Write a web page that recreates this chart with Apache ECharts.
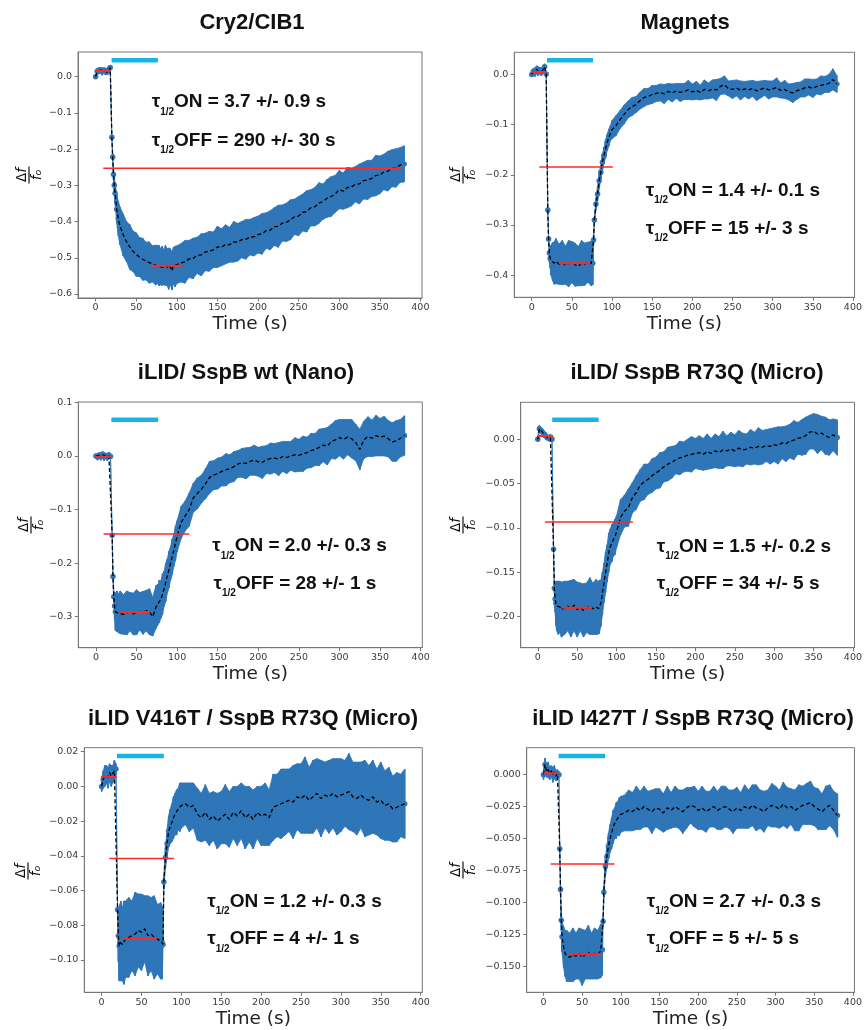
<!DOCTYPE html>
<html>
<head>
<meta charset="utf-8">
<script src="https://cdn.jsdelivr.net/npm/echarts@6/dist/echarts.min.js"></script>
<style>html,body{margin:0;padding:0;background:#fff}#c{width:865px;height:1030px}</style>
</head>
<body>
<div id="c"></div>
<script>
// ---------- DATA ----------
const titles = ['Cry2/CIB1', 'Magnets', 'iLID/ SspB wt (Nano)', 'iLID/ SspB R73Q (Micro)', 'iLID V416T / SspB R73Q (Micro)', 'iLID I427T / SspB R73Q (Micro)'];
const tauOn = ['3.7 +/- 0.9 s', '1.4 +/- 0.1 s', '2.0 +/- 0.3 s', '1.5 +/- 0.2 s', '1.2 +/- 0.3 s', '2.7 +/- 0.3 s'];
const tauOff = ['290 +/- 30 s', '15 +/- 3 s', '28 +/- 1 s', '34 +/- 5 s', '4 +/- 1 s', '5 +/- 5 s'];
const xTicks = [0, 50, 100, 150, 200, 250, 300, 350, 400];
const yTicks1 = [0.0, -0.1, -0.2, -0.3, -0.4, -0.5, -0.6];
const yTicks2 = [0.0, -0.1, -0.2, -0.3, -0.4];
const yTicks3 = [0.1, 0.0, -0.1, -0.2, -0.3];
const yTicks4 = [0.00, -0.05, -0.10, -0.15, -0.20];
const yTicks5 = [0.02, 0.00, -0.02, -0.04, -0.06, -0.08, -0.10];
const yTicks6 = [0.000, -0.025, -0.050, -0.075, -0.100, -0.125, -0.150];

// time (s)
const time = [0,2,4,6,8,10,12,14,16,18,
  20,21,22,23,24,26,28,30,
  34,38,42,46,50,54,58,62,66,70,74,
  76,77,78,
  80,82,84,86,88,90,92,94,96,98,100,
  105,110,115,120,125,130,135,140,145,
  150,155,160,165,170,175,180,185,190,195,
  200,205,210,215,220,225,230,235,240,245,
  250,255,260,265,270,275,280,285,290,295,
  300,305,310,315,320,325,330,335,340,345,
  350,355,360,365,370,375,380];

// Cry2/CIB1
const mean1 = [0.000,0.015,0.016,0.018,0.014,0.017,0.015,0.012,0.019,0.025,
  -0.167,-0.222,-0.270,-0.300,-0.322,-0.366,-0.392,-0.412,
  -0.437,-0.455,-0.470,-0.482,-0.491,-0.498,-0.504,-0.509,-0.513,-0.517,-0.520,
  -0.519,-0.523,-0.521,
  -0.525,-0.522,-0.527,-0.521,-0.526,-0.530,-0.524,-0.536,-0.521,-0.524,-0.519,
  -0.514,-0.511,-0.503,-0.502,-0.493,-0.492,-0.484,-0.482,-0.478,
  -0.470,-0.471,-0.463,-0.464,-0.456,-0.457,-0.450,-0.449,-0.443,-0.442,
  -0.436,-0.434,-0.425,-0.424,-0.414,-0.413,-0.404,-0.402,-0.395,-0.387,
  -0.385,-0.375,-0.372,-0.362,-0.359,-0.349,-0.345,-0.336,-0.331,-0.324,
  -0.312,-0.316,-0.306,-0.305,-0.297,-0.296,-0.287,-0.285,-0.281,-0.273,
  -0.271,-0.263,-0.261,-0.253,-0.252,-0.244,-0.241];
const err1 = [0.004,0.008,0.009,0.007,0.010,0.008,0.009,0.007,0.010,0.006,
  0.004,0.010,0.015,0.022,0.030,0.040,0.048,0.052,
  0.058,0.055,0.062,0.056,0.060,0.054,0.058,0.052,0.057,0.050,0.055,
  0.053,0.049,0.056,
  0.050,0.054,0.048,0.055,0.051,0.057,0.049,0.053,0.050,0.056,0.052,
  0.053,0.059,0.051,0.056,0.050,0.058,0.052,0.055,0.049,
  0.057,0.051,0.054,0.048,0.056,0.052,0.050,0.055,0.049,0.053,
  0.051,0.056,0.049,0.054,0.052,0.058,0.050,0.053,0.055,0.049,
  0.054,0.051,0.057,0.050,0.053,0.056,0.049,0.052,0.055,0.051,
  0.053,0.050,0.056,0.052,0.049,0.055,0.051,0.054,0.050,0.056,
  0.052,0.049,0.055,0.051,0.053,0.048,0.050];

// Magnets
const mean2 = [0.000,0.006,0.004,0.010,0.006,0.008,0.005,0.009,0.015,0.001,
  -0.270,-0.328,-0.356,-0.366,-0.370,-0.373,-0.376,-0.372,
  -0.378,-0.375,-0.380,-0.377,-0.374,-0.379,-0.382,-0.376,-0.378,-0.374,-0.377,
  -0.376,-0.330,-0.290,
  -0.258,-0.238,-0.212,-0.195,-0.175,-0.162,-0.148,-0.135,-0.126,-0.117,-0.110,
  -0.102,-0.090,-0.080,-0.070,-0.064,-0.060,-0.052,-0.046,-0.044,
  -0.040,-0.038,-0.036,-0.039,-0.034,-0.037,-0.033,-0.036,-0.034,-0.031,
  -0.035,-0.032,-0.036,-0.030,-0.033,-0.029,-0.031,-0.024,-0.021,-0.028,
  -0.030,-0.027,-0.032,-0.029,-0.031,-0.028,-0.033,-0.030,-0.027,-0.031,
  -0.029,-0.026,-0.032,-0.030,-0.035,-0.037,-0.033,-0.030,-0.027,-0.025,
  -0.028,-0.024,-0.022,-0.020,-0.018,-0.010,-0.019];
const err2 = [0.004,0.006,0.008,0.007,0.009,0.006,0.008,0.007,0.006,0.004,
  0.004,0.006,0.010,0.020,0.030,0.038,0.042,0.045,
  0.040,0.044,0.038,0.046,0.041,0.043,0.039,0.045,0.042,0.040,0.044,
  0.043,0.010,0.006,
  0.012,0.014,0.016,0.014,0.017,0.015,0.018,0.016,0.017,0.015,0.018,
  0.020,0.018,0.019,0.017,0.018,0.016,0.017,0.018,0.016,
  0.018,0.016,0.017,0.019,0.016,0.018,0.015,0.018,0.016,0.019,
  0.016,0.018,0.015,0.019,0.016,0.018,0.021,0.016,0.018,0.015,
  0.018,0.016,0.019,0.015,0.018,0.016,0.019,0.017,0.015,0.018,
  0.016,0.019,0.015,0.018,0.016,0.019,0.017,0.015,0.018,0.016,
  0.018,0.015,0.019,0.016,0.018,0.021,0.017];

// iLID/ SspB wt (Nano)
const mean3 = [0.000,-0.002,0.001,-0.001,0.002,-0.001,0.000,-0.002,0.001,-0.001,
  -0.148,-0.225,-0.263,-0.280,-0.291,-0.290,-0.294,-0.292,
  -0.296,-0.293,-0.291,-0.295,-0.292,-0.290,-0.293,-0.289,-0.291,-0.300,-0.282,
  -0.278,-0.276,-0.272,
  -0.268,-0.258,-0.248,-0.236,-0.224,-0.212,-0.200,-0.188,-0.176,-0.163,-0.150,
  -0.124,-0.112,-0.100,-0.078,-0.070,-0.062,-0.052,-0.040,-0.036,
  -0.033,-0.029,-0.026,-0.024,-0.020,-0.015,-0.013,-0.014,-0.010,-0.008,
  -0.011,-0.012,-0.007,-0.005,-0.004,-0.006,-0.001,-0.003,0.000,0.002,
  0.001,0.004,0.006,0.010,0.012,0.016,0.020,0.018,0.027,0.030,
  0.034,0.031,0.035,0.032,0.025,0.012,0.030,0.036,0.033,0.038,
  0.035,0.037,0.032,0.026,0.028,0.033,0.038];
const err3 = [0.004,0.006,0.005,0.007,0.006,0.008,0.005,0.007,0.006,0.004,
  0.003,0.005,0.010,0.025,0.035,0.038,0.036,0.040,
  0.037,0.041,0.036,0.039,0.042,0.035,0.040,0.038,0.043,0.036,0.040,
  0.038,0.036,0.040,
  0.035,0.038,0.033,0.036,0.032,0.034,0.031,0.033,0.030,0.032,0.029,
  0.030,0.028,0.031,0.027,0.029,0.026,0.028,0.030,0.027,
  0.029,0.027,0.030,0.026,0.028,0.025,0.027,0.029,0.026,0.028,
  0.027,0.030,0.026,0.029,0.027,0.031,0.028,0.030,0.027,0.032,
  0.030,0.033,0.029,0.032,0.030,0.034,0.031,0.035,0.032,0.036,
  0.034,0.037,0.033,0.036,0.034,0.038,0.035,0.037,0.034,0.038,
  0.035,0.037,0.034,0.036,0.038,0.035,0.037];

// iLID/ SspB R73Q (Micro)
const mean4 = [0.000,0.012,0.010,0.008,0.005,0.004,0.002,0.001,0.002,0.000,
  -0.124,-0.168,-0.180,-0.185,-0.188,-0.190,-0.189,-0.192,
  -0.190,-0.188,-0.191,-0.187,-0.192,-0.189,-0.193,-0.190,-0.188,-0.191,-0.189,
  -0.190,-0.191,-0.189,
  -0.185,-0.174,-0.162,-0.150,-0.140,-0.128,-0.121,-0.117,-0.113,-0.110,-0.104,
  -0.088,-0.081,-0.077,-0.066,-0.060,-0.052,-0.048,-0.045,-0.041,
  -0.038,-0.035,-0.031,-0.028,-0.026,-0.023,-0.021,-0.020,-0.018,-0.017,
  -0.016,-0.015,-0.017,-0.014,-0.016,-0.013,-0.015,-0.012,-0.013,-0.011,
  -0.013,-0.010,-0.012,-0.011,-0.009,-0.010,-0.008,-0.009,-0.007,-0.008,
  -0.006,-0.007,-0.004,-0.005,-0.002,-0.001,0.001,0.002,0.004,0.008,
  0.009,0.006,0.007,0.004,0.002,0.005,0.002];
const err4 = [0.003,0.004,0.003,0.004,0.003,0.004,0.003,0.003,0.004,0.003,
  0.003,0.005,0.015,0.025,0.028,0.030,0.029,0.031,
  0.030,0.028,0.032,0.029,0.031,0.027,0.030,0.028,0.032,0.029,0.031,
  0.030,0.028,0.030,
  0.026,0.024,0.022,0.023,0.021,0.022,0.020,0.021,0.019,0.020,0.018,
  0.020,0.018,0.021,0.017,0.019,0.018,0.020,0.017,0.019,
  0.018,0.020,0.017,0.019,0.018,0.016,0.019,0.017,0.018,0.020,
  0.017,0.019,0.018,0.020,0.017,0.019,0.018,0.021,0.017,0.019,
  0.018,0.020,0.019,0.017,0.020,0.018,0.021,0.019,0.018,0.020,
  0.019,0.021,0.018,0.020,0.019,0.022,0.018,0.020,0.021,0.019,
  0.020,0.022,0.019,0.021,0.020,0.018,0.020];

// iLID V416T / SspB R73Q (Micro)
const mean5 = [0.000,0.004,0.006,0.007,0.005,0.008,0.006,0.007,0.009,0.010,
  -0.071,-0.086,-0.092,-0.090,-0.089,-0.091,-0.090,-0.088,
  -0.087,-0.086,-0.085,-0.083,-0.084,-0.082,-0.086,-0.085,-0.087,-0.088,-0.089,
  -0.090,-0.091,-0.055,
  -0.041,-0.033,-0.026,-0.023,-0.021,-0.018,-0.016,-0.015,-0.013,-0.012,-0.011,
  -0.010,-0.012,-0.011,-0.016,-0.018,-0.015,-0.019,-0.017,-0.020,
  -0.018,-0.016,-0.019,-0.015,-0.017,-0.014,-0.018,-0.016,-0.019,-0.015,
  -0.017,-0.016,-0.018,-0.012,-0.011,-0.010,-0.009,-0.008,-0.009,-0.006,
  -0.007,-0.005,-0.008,-0.006,-0.004,-0.007,-0.005,-0.006,-0.004,-0.006,
  -0.005,-0.004,-0.003,-0.006,-0.007,-0.005,-0.007,-0.008,-0.006,-0.009,
  -0.008,-0.011,-0.010,-0.013,-0.012,-0.011,-0.010];
const err5 = [0.003,0.005,0.006,0.005,0.006,0.005,0.006,0.005,0.006,0.003,
  0.002,0.015,0.020,0.022,0.023,0.021,0.024,0.022,
  0.023,0.020,0.024,0.021,0.022,0.019,0.023,0.021,0.024,0.020,0.022,
  0.021,0.002,0.004,
  0.006,0.008,0.009,0.010,0.011,0.012,0.012,0.013,0.012,0.014,0.013,
  0.012,0.014,0.013,0.015,0.014,0.016,0.015,0.014,0.016,
  0.015,0.017,0.016,0.015,0.017,0.016,0.018,0.016,0.017,0.015,
  0.017,0.018,0.016,0.019,0.018,0.020,0.019,0.018,0.021,0.019,
  0.020,0.022,0.019,0.021,0.020,0.022,0.019,0.021,0.020,0.022,
  0.021,0.019,0.022,0.020,0.021,0.019,0.022,0.020,0.021,0.019,
  0.022,0.020,0.021,0.019,0.020,0.018,0.020];

// iLID I427T / SspB R73Q (Micro)
const mean6 = [0.000,0.008,0.002,0.004,0.001,0.003,0.000,0.002,-0.001,0.001,
  0.000,-0.058,-0.090,-0.114,-0.127,-0.135,-0.140,-0.142,
  -0.143,-0.141,-0.142,-0.140,-0.143,-0.141,-0.139,-0.142,-0.140,-0.141,-0.138,
  -0.137,-0.115,-0.092,
  -0.072,-0.064,-0.056,-0.050,-0.046,-0.041,-0.038,-0.036,-0.034,-0.033,-0.031,
  -0.030,-0.028,-0.029,-0.026,-0.028,-0.025,-0.027,-0.029,-0.026,
  -0.027,-0.030,-0.026,-0.028,-0.025,-0.027,-0.029,-0.026,-0.024,-0.025,
  -0.028,-0.026,-0.029,-0.027,-0.025,-0.028,-0.026,-0.025,-0.027,-0.029,
  -0.026,-0.028,-0.025,-0.027,-0.024,-0.026,-0.027,-0.029,-0.026,-0.024,
  -0.025,-0.027,-0.023,-0.026,-0.025,-0.028,-0.026,-0.024,-0.023,-0.022,
  -0.025,-0.027,-0.029,-0.026,-0.024,-0.028,-0.032];
const err6 = [0.004,0.005,0.004,0.006,0.005,0.004,0.006,0.005,0.004,0.003,
  0.002,0.003,0.004,0.008,0.012,0.016,0.018,0.020,
  0.019,0.021,0.018,0.020,0.022,0.019,0.021,0.018,0.020,0.019,0.021,
  0.020,0.004,0.005,
  0.007,0.009,0.010,0.011,0.012,0.013,0.012,0.014,0.013,0.015,0.014,
  0.014,0.016,0.015,0.017,0.015,0.016,0.014,0.017,0.015,
  0.016,0.015,0.017,0.014,0.016,0.015,0.017,0.016,0.014,0.016,
  0.015,0.017,0.016,0.014,0.016,0.015,0.017,0.016,0.015,0.017,
  0.016,0.014,0.017,0.015,0.016,0.018,0.015,0.016,0.014,0.017,
  0.016,0.015,0.017,0.016,0.014,0.016,0.018,0.015,0.016,0.017,
  0.015,0.016,0.014,0.017,0.016,0.015,0.017];

// red fit lines: [xStart, xEnd, level]
const red1 = [[0, 18, 0.0157], [9.4, 376.6, -0.253], [69, 107, -0.522]];
const red2 = [[-0.7, 17.8, 0.005], [9.5, 101, -0.1845], [34, 73, -0.376]];
const red3 = [[0, 18, -0.0015], [9.4, 115, -0.1457], [28.7, 66.8, -0.2912]];
const red4 = [[0, 19.5, 0.0037], [9.2, 120.7, -0.0933], [31.3, 69, -0.19]];
const red5 = [[-0.75, 18.8, 0.0055], [9.6, 90.7, -0.0415], [26.8, 69.4, -0.0878]];
const red6 = [[0, 18.6, 0.001], [9.3, 91.8, -0.0699], [33.5, 74, -0.1406]];
// light-on bars: [xStart, xEnd, level]
const light1 = [19.7, 76.7, 0.045];
const light2 = [19.0, 76.4, 0.028];
const light3 = [19.0, 76.7, 0.0675];
const light4 = [18.3, 77.2, 0.0221];
const light5 = [19.3, 78.0, 0.0175];
const light6 = [19.5, 79.5, 0.0146];

// ---------- LAYOUT ----------
const means = [mean1, mean2, mean3, mean4, mean5, mean6];
const errs = [err1, err2, err3, err4, err5, err6];
const reds = [red1, red2, red3, red4, red5, red6];
const lights = [light1, light2, light3, light4, light5, light6];
const yTicks = [yTicks1, yTicks2, yTicks3, yTicks4, yTicks5, yTicks6];
const yDec = [1, 1, 1, 2, 2, 3];
const yRange = [[-0.611, 0.068], [-0.444, 0.044], [-0.358, 0.1006], [-0.235, 0.0417], [-0.1186, 0.0223], [-0.1704, 0.0211]];
const grids = [
  {left: 78, top: 52, width: 344, height: 246},
  {left: 514.3, top: 52.3, width: 344, height: 245},
  {left: 78.3, top: 402, width: 344, height: 245.7},
  {left: 520.7, top: 402.3, width: 337.6, height: 245.4},
  {left: 84.3, top: 747.7, width: 338, height: 244.6},
  {left: 526.7, top: 747.7, width: 331.6, height: 244.6}
];
const titlePos = [[252, 23], [685, 23], [246, 373], [697, 373], [253, 719], [693, 719]];
const annPos = [[151.7, 102, 151.7, 140.7], [645.7, 190.7, 645.7, 228.3], [212.3, 546, 213.5, 583.3], [656.7, 546.7, 656.7, 583.3], [207.3, 901.7, 207.3, 939], [646.7, 901.7, 646.7, 939]];
const fracPos = [[29, 175], [463, 175], [31, 525], [463, 525], [28, 871], [463, 870]];

const BAND = '#2f76b8';
const CYAN = '#19b4e6';
const RED = '#ff2a2a';
const SPINE = '#777777';
const TICKTXT = '#3a3a3a';

function fmt(d) {
  return function (v) { return (v < -1e-12 ? '\u2212' : '') + Math.abs(v).toFixed(d); };
}

const option = {
  animation: false,
  backgroundColor: '#fff',
  grid: [], xAxis: [], yAxis: [], series: [], graphic: []
};

for (let i = 0; i < 6; i++) {
  const g = grids[i];
  option.grid.push(Object.assign({show: true, borderColor: SPINE, borderWidth: 1, backgroundColor: 'transparent'}, g));
  option.xAxis.push({
    type: 'value', gridIndex: i, min: -21.7, max: 402,
    axisLine: {show: true, onZero: false, lineStyle: {color: SPINE, width: 1}},
    axisTick: {show: true, length: 3.5, lineStyle: {color: SPINE}, customValues: xTicks},
    axisLabel: {customValues: xTicks, color: TICKTXT, fontFamily: 'DejaVu Sans', fontSize: 9.5, margin: 5,
      formatter: function (v) { return String(Math.round(v)); }},
    splitLine: {show: false},
    name: 'Time (s)', nameLocation: 'middle', nameGap: 17,
    nameTextStyle: {fontFamily: 'DejaVu Sans', fontSize: 18.5, color: '#222', verticalAlign: 'top'}
  });
  option.yAxis.push({
    type: 'value', gridIndex: i, min: yRange[i][0], max: yRange[i][1],
    axisLine: {show: true, onZero: false, lineStyle: {color: SPINE, width: 1}},
    axisTick: {show: true, length: 3.5, lineStyle: {color: SPINE}, customValues: yTicks[i]},
    axisLabel: {customValues: yTicks[i], color: TICKTXT, fontFamily: 'DejaVu Sans', fontSize: 9.5, margin: 6,
      formatter: fmt(yDec[i])},
    splitLine: {show: false}
  });

  const m = means[i], e = errs[i];
  // band segments between consecutive points: [t, y, e, tNext, yNext, eNext]
  const seg = [];
  for (let k = 0; k < time.length - 1; k++) {
    seg.push([time[k], m[k], e[k], time[k + 1], m[k + 1], e[k + 1]]);
  }
  option.series.push({
    type: 'custom', xAxisIndex: i, yAxisIndex: i, silent: true, z: 2,
    data: seg, encode: {x: [0, 3], y: [1, 4]},
    renderItem: function (params, api) {
      const t0 = api.value(0), y0 = api.value(1), e0 = api.value(2);
      const t1 = api.value(3), y1 = api.value(4), e1 = api.value(5);
      const a = api.coord([t0, y0 + e0]), b = api.coord([t1, y1 + e1]);
      const c = api.coord([t1, y1 - e1]), d = api.coord([t0, y0 - e0]);
      return {type: 'polygon', shape: {points: [a, b, c, d]},
        style: {fill: BAND, stroke: BAND, lineWidth: 0.8}};
    }
  });
  // error bars at each point
  const rows = time.map(function (t, k) { return [t, m[k], e[k]]; });
  option.series.push({
    type: 'custom', xAxisIndex: i, yAxisIndex: i, silent: true, z: 2,
    data: rows, encode: {x: 0, y: 1},
    renderItem: function (params, api) {
      const x = api.value(0), y = api.value(1), ee = api.value(2);
      const p1 = api.coord([x, y - ee]), p2 = api.coord([x, y + ee]);
      return {type: 'line', shape: {x1: p1[0], y1: p1[1], x2: p2[0], y2: p2[1]},
        style: {stroke: BAND, lineWidth: 1.5, lineCap: 'butt'}};
    }
  });
  // markers
  option.series.push({
    type: 'scatter', xAxisIndex: i, yAxisIndex: i, silent: true, z: 3,
    data: rows.map(function (r) { return [r[0], r[1]]; }),
    symbolSize: 5.5, itemStyle: {color: BAND, opacity: 1}
  });
  // dashed mean line
  option.series.push({
    type: 'line', xAxisIndex: i, yAxisIndex: i, silent: true, z: 4,
    data: rows.map(function (r) { return [r[0], r[1]]; }),
    showSymbol: false, lineStyle: {color: '#000', width: 1.3, type: [4, 2.5]}
  });
  // red fit lines
  reds[i].forEach(function (r, j) {
    option.series.push({
      type: 'line', xAxisIndex: i, yAxisIndex: i, silent: true, z: 5,
      data: [[r[0], r[2]], [r[1], r[2]]], showSymbol: false,
      lineStyle: {color: RED, width: j === 1 ? 1.5 : 2}
    });
  });
  // light bar
  const L = lights[i];
  option.series.push({
    type: 'line', xAxisIndex: i, yAxisIndex: i, silent: true, z: 5,
    data: [[L[0], L[2]], [L[1], L[2]]], showSymbol: false,
    lineStyle: {color: CYAN, width: 4.5, cap: 'butt'}
  });

  // title
  option.graphic.push({
    type: 'text', x: titlePos[i][0], y: titlePos[i][1], silent: true,
    style: {text: titles[i], font: 'bold 22px "Liberation Sans", Arial, sans-serif', fill: '#111',
      align: 'center', verticalAlign: 'middle', textAlign: 'center', textVerticalAlign: 'middle'}
  });
  // annotations
  const rich = {
    m: {fontSize: 19, fontWeight: 'bold', fontFamily: '"Liberation Sans", Arial, sans-serif', fill: '#111', color: '#111', lineHeight: 30},
    s: {fontSize: 10, fontWeight: 'bold', fontFamily: '"Liberation Sans", Arial, sans-serif', fill: '#111', color: '#111', lineHeight: 13, verticalAlign: 'bottom'}
  };
  const ap = annPos[i];
  option.graphic.push({
    type: 'text', x: ap[0], y: ap[1], silent: true,
    style: {text: '{m|\u03C4}{s|1/2}{m|ON = ' + tauOn[i] + '}', rich: rich,
      align: 'left', verticalAlign: 'middle', textAlign: 'left', textVerticalAlign: 'middle'}
  });
  option.graphic.push({
    type: 'text', x: ap[2], y: ap[3], silent: true,
    style: {text: '{m|\u03C4}{s|1/2}{m|OFF = ' + tauOff[i] + '}', rich: rich,
      align: 'left', verticalAlign: 'middle', textAlign: 'left', textVerticalAlign: 'middle'}
  });
  // y label fraction  Δf / f_o  (rotated)
  const fr = {
    d: {fontSize: 13.5, fontFamily: 'DejaVu Sans', fill: '#111', color: '#111'},
    f: {fontSize: 13.5, fontFamily: 'DejaVu Sans', fontStyle: 'italic', fill: '#111', color: '#111'},
    o: {fontSize: 9.5, fontFamily: 'DejaVu Sans', fontStyle: 'italic', fill: '#111', color: '#111', lineHeight: 12, verticalAlign: 'bottom'}
  };
  option.graphic.push({
    type: 'group', x: fracPos[i][0], y: fracPos[i][1], rotation: Math.PI / 2, silent: true,
    children: [
      {type: 'text', x: 0, y: -7, style: {text: '{d|\u0394}{f|f}', rich: fr, align: 'center', verticalAlign: 'middle', textAlign: 'center', textVerticalAlign: 'middle'}},
      {type: 'line', shape: {x1: -8.5, y1: 0, x2: 8.5, y2: 0}, style: {stroke: '#111', lineWidth: 1.2}},
      {type: 'text', x: 0, y: 8, style: {text: '{f|f}{o|o}', rich: fr, align: 'center', verticalAlign: 'middle', textAlign: 'center', textVerticalAlign: 'middle'}}
    ]
  });
}

const chart = echarts.init(document.getElementById('c'), null, {renderer: 'canvas'});
chart.setOption(option);
</script>
</body>
</html>
